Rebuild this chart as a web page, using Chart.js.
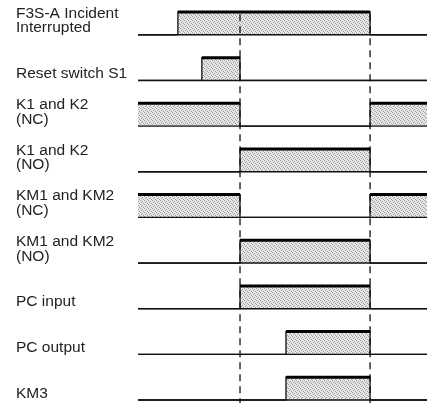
<!DOCTYPE html>
<html>
<head>
<meta charset="utf-8">
<script src="https://cdn.jsdelivr.net/npm/chart.js@4"></script>
<style>
  html, body { margin: 0; padding: 0; background: #fff; }
  #wrap { width: 429px; height: 403px; position: relative; }
</style>
</head>
<body>
<div id="wrap"><canvas id="timing"></canvas></div>
<script>
// --- Data: event times (0-100 along the time axis) and signal states ---
const events = [0, 13.8, 22.1, 35.3, 51.2, 80.3, 100];
const signalLabels = [
  ['F3S-A Incident', 'Interrupted'],
  ['Reset switch S1'],
  ['K1 and K2', '(NC)'],
  ['K1 and K2', '(NO)'],
  ['KM1 and KM2', '(NC)'],
  ['KM1 and KM2', '(NO)'],
  ['PC input'],
  ['PC output'],
  ['KM3']
];
// state holds from events[i] until events[i+1]
const f3sStates   = [0, 1, 1, 1, 1, 0, 0];
const resetStates = [0, 0, 1, 0, 0, 0, 0];
const kNcStates   = [1, 1, 1, 0, 0, 1, 1];
const kNoStates   = [0, 0, 0, 1, 1, 0, 0];
const kmNcStates  = [1, 1, 1, 0, 0, 1, 1];
const kmNoStates  = [0, 0, 0, 1, 1, 0, 0];
const pcInStates  = [0, 0, 0, 1, 1, 0, 0];
const pcOutStates = [0, 0, 0, 0, 1, 0, 0];
const km3States   = [0, 0, 0, 0, 1, 0, 0];
const markerTimes = [35.3, 80.3];

const allStates = [f3sStates, resetStates, kNcStates, kNoStates, kmNcStates,
                   kmNoStates, pcInStates, pcOutStates, km3States];
const HIGH = 0.5; // pulse height in row units

// halftone-ish grey fill
function makePattern() {
  const c = document.createElement('canvas');
  c.width = 4; c.height = 4;
  const g = c.getContext('2d');
  g.fillStyle = '#e6e6e6';
  g.fillRect(0, 0, 4, 4);
  g.fillStyle = '#9c9c9c';
  [[0,0],[2,1],[1,2],[3,3]].forEach(p => g.fillRect(p[0], p[1], 1, 1));
  return g.createPattern(c, 'repeat');
}
const pattern = makePattern();

const datasets = [];
allStates.forEach((states, r) => {
  const base = -r;
  // stepped outline + grey fill
  datasets.push({
    data: events.map((t, i) => ({ x: t, y: base + states[i] * HIGH })),
    stepped: true,
    borderColor: '#111',
    borderWidth: 1.3,
    backgroundColor: pattern,
    fill: { value: base },
    pointRadius: 0,
    clip: false,
    order: 4
  });
  // baseline
  datasets.push({
    data: [{ x: events[0], y: base }, { x: events[events.length - 1], y: base }],
    borderColor: '#111',
    borderWidth: 1.4,
    fill: false,
    pointRadius: 0,
    clip: false,
    order: 3
  });
  // thick top edge of each pulse
  const top = [];
  for (let i = 0; i < states.length - 1; i++) {
    if (states[i]) {
      top.push({ x: events[i], y: base + HIGH }, { x: events[i + 1], y: base + HIGH }, { x: events[i + 1], y: null });
    }
  }
  datasets.push({
    data: top,
    borderColor: '#000',
    borderWidth: 3,
    spanGaps: false,
    fill: false,
    pointRadius: 0,
    clip: false,
    order: 1
  });
});
// dashed time markers
markerTimes.forEach(t => {
  datasets.push({
    data: [{ x: t, y: HIGH - 0.05 }, { x: t, y: -8.07 }],
    borderColor: '#111',
    borderWidth: 1.3,
    borderDash: [7, 5],
    fill: false,
    pointRadius: 0,
    clip: false,
    order: 2
  });
});

// row labels at the left
const labelPlugin = {
  id: 'rowLabels',
  afterDraw(chart) {
    const ctx = chart.ctx;
    const y = chart.scales.y;
    ctx.save();
    ctx.fillStyle = '#222';
    ctx.font = '15.5px "Liberation Sans", Arial, sans-serif';
    ctx.textBaseline = 'alphabetic';
    ctx.textAlign = 'left';
    signalLabels.forEach((lines, r) => {
      const by = y.getPixelForValue(-r);
      lines.forEach((txt, k) => {
        const off = (lines.length - 1 - k) * 14.5;
        ctx.fillText(txt, 16, by - 2.5 - off);
      });
    });
    ctx.restore();
  }
};

new Chart(document.getElementById('timing'), {
  type: 'line',
  data: { datasets },
  options: {
    responsive: true,
    maintainAspectRatio: false,
    animation: false,
    layout: { padding: { left: 138, right: 2, top: 12, bottom: 3 } },
    plugins: { legend: { display: false }, tooltip: { enabled: false } },
    scales: {
      x: { type: 'linear', min: 0, max: 100, display: false },
      y: { type: 'linear', min: -8, max: HIGH, display: false }
    }
  },
  plugins: [labelPlugin]
});
</script>
</body>
</html>
